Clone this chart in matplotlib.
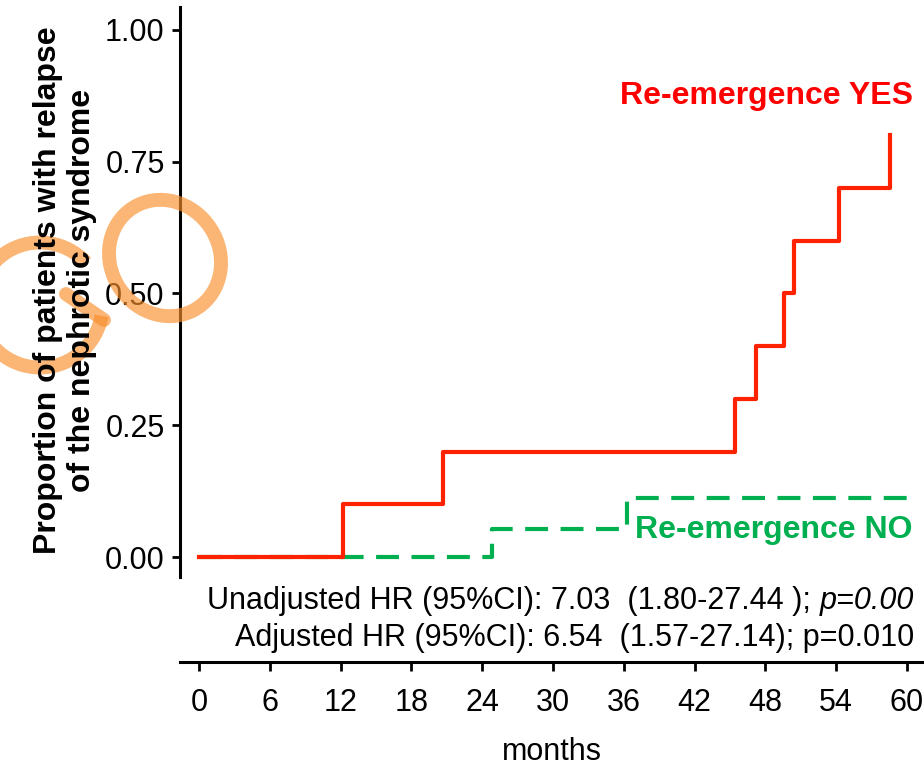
import matplotlib
matplotlib.use("Agg")
import matplotlib.pyplot as plt
from matplotlib.patches import Arc, Ellipse
from matplotlib.lines import Line2D

plt.rcParams["font.family"] = ["Liberation Sans", "DejaVu Sans"]

# step curves (months, cumulative proportion with relapse)
yes_months = [0, 12.2, 20.7, 45.4, 47.2, 49.6, 50.4, 54.2, 58.6]
yes_prop = [0.0, 0.10, 0.20, 0.30, 0.40, 0.50, 0.60, 0.70, 0.80]
no_months = [0, 24.8, 36.3, 60.1]
no_prop = [0.0, 0.053, 0.112, 0.112]

x_ticks = list(range(0, 61, 6))
y_ticks = [0.0, 0.25, 0.5, 0.75, 1.0]

hr_line1 = "Unadjusted HR (95%CI): 7.03  (1.80-27.44 ); "
hr_line1_p = "p=0.00"
hr_line2 = "Adjusted HR (95%CI): 6.54  (1.57-27.14); p=0.010"

RED = "#FF2200"
GREEN = "#00B050"
W, H = 924, 767

fig = plt.figure(figsize=(W / 100, H / 100), dpi=100)
ax = fig.add_axes([180 / W, (H - 662) / H, 744 / W, 655 / H])

ax.plot(no_months, no_prop, drawstyle="steps-post", color=GREEN,
        lw=3, dashes=(5.5, 3), solid_capstyle="butt")
ax.plot(yes_months, yes_prop, drawstyle="steps-post", color=RED, lw=3)

ax.set_xlim(-1.61, 61.44)
ax.set_ylim(-0.1992, 1.0436)
ax.set_xticks(x_ticks)
ax.set_yticks(y_ticks)
ax.set_yticklabels([f"{v:.2f}" for v in y_ticks])

for s in ["top", "right"]:
    ax.spines[s].set_visible(False)
ax.spines["left"].set_bounds(-0.038, 1.0436)
ax.spines["left"].set_linewidth(2.2)
ax.spines["bottom"].set_linewidth(2.2)

ax.tick_params(axis="y", length=6, width=2, pad=5, labelsize=22)
ax.tick_params(axis="x", length=6.5, width=2, pad=12, labelsize=22)
ax.set_xlabel("months", fontsize=22, labelpad=14)

ax.text(60.5, 0.8596, "Re-emergence YES", color="#FF0000", fontsize=23,
        fontweight="bold", ha="right", va="baseline")
ax.text(60.5, 0.036, "Re-emergence NO", color=GREEN, fontsize=23,
        fontweight="bold", ha="right", va="baseline")

p_txt = ax.text(60.6, -0.0987, hr_line1_p, fontsize=22, style="italic",
                ha="right", va="baseline")
ax.annotate(hr_line1, xy=(0, 0), xycoords=p_txt, fontsize=22,
            ha="right", va="bottom")
ax.text(60.6, -0.169, hr_line2, fontsize=22, ha="right", va="baseline")

fig.text(65 / W, 1 - 290 / H,
         "Proportion of patients with relapse\nof the nephrotic syndrome",
         rotation=90, ha="center", va="center", multialignment="center",
         fontsize=23, fontweight="bold", linespacing=1.15)

# orange hand-drawn marks on the left
orange = dict(color="#F98E2B", alpha=0.65, lw=10, fill=False)
fig.patches.append(Ellipse((165 / W, 1 - 258 / H), 111 / W, 117 / H, angle=10,
                           transform=fig.transFigure, **orange))
fig.patches.append(Arc((40 / W, 1 - 305 / H), 125 / W, 125 / H,
                       theta1=48, theta2=348, transform=fig.transFigure,
                       color="#F98E2B", alpha=0.65, lw=10))
fig.lines.append(Line2D([104 / W, 66 / W], [1 - 320 / H, 1 - 294 / H],
                        transform=fig.transFigure, color="#F98E2B",
                        alpha=0.65, lw=10, solid_capstyle="round"))

fig.savefig("out.png", dpi=100)
